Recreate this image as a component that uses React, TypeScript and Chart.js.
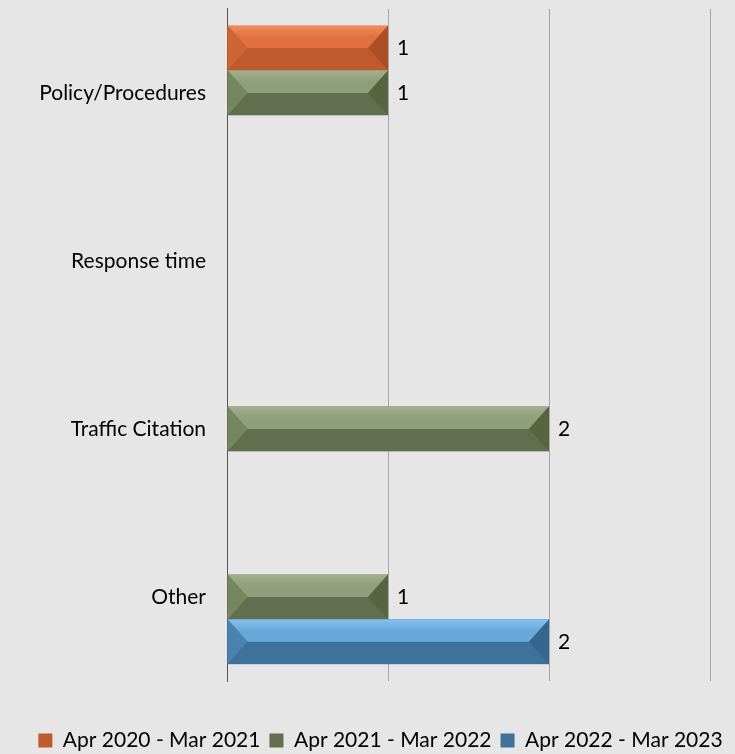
import React, { useEffect, useRef } from "react";
import { Chart, registerables } from "chart.js";

Chart.register(...registerables);

const categories = ["Policy/Procedures", "Response time", "Traffic Citation", "Other"];
const seriesNames = ["Apr 2020 - Mar 2021", "Apr 2021 - Mar 2022", "Apr 2022 - Mar 2023"];
const series2020 = [1, 0, 0, 0];
const series2021 = [1, 0, 2, 1];
const series2022 = [0, 0, 0, 2];
const xTicks = [0, 1, 2, 3];

// [highlight, top, bottom, left, right]
const palettes = [
  ["#f38b5c", "#e3713f", "#bf5a2c", "#cf6434", "#ad4f25"],
  ["#a2b08f", "#909f7b", "#616f4e", "#76865f", "#56643f"],
  ["#82c2ef", "#69a9d9", "#3e719b", "#4a82b0", "#356690"],
];

const FONT = "Lato, 'Noto Sans', sans-serif";
const FS = 21;

const bevelPlugin = {
  id: "bevel",
  afterLayout(chart: any) {
    const l = chart.legend;
    if (l) {
      l.top += 7;
      l.bottom += 7;
    }
  },
  afterDatasetsDraw(chart: any) {
    const ctx = chart.ctx;
    chart.data.datasets.forEach((ds: any, di: number) => {
      const meta = chart.getDatasetMeta(di);
      const p = palettes[di];
      meta.data.forEach((bar: any, i: number) => {
        const v = ds.data[i];
        if (!v) return;
        const { x, y, base, height } = bar.getProps(["x", "y", "base", "height"], true);
        const x0 = Math.min(base, x);
        const x1 = Math.max(base, x);
        const top = y - height / 2;
        const bot = y + height / 2;
        const mid = y;
        const bw = Math.min(20, (x1 - x0) / 2);
        ctx.save();
        ctx.fillStyle = p[2];
        ctx.fillRect(x0, top, x1 - x0, height);
        const g = ctx.createLinearGradient(0, top, 0, mid);
        g.addColorStop(0, p[0]);
        g.addColorStop(0.5, p[1]);
        g.addColorStop(1, p[1]);
        ctx.fillStyle = g;
        ctx.beginPath();
        ctx.moveTo(x0, top);
        ctx.lineTo(x1, top);
        ctx.lineTo(x1 - bw, mid);
        ctx.lineTo(x0 + bw, mid);
        ctx.closePath();
        ctx.fill();
        ctx.fillStyle = p[3];
        ctx.beginPath();
        ctx.moveTo(x0, top);
        ctx.lineTo(x0 + bw, mid);
        ctx.lineTo(x0, bot);
        ctx.closePath();
        ctx.fill();
        ctx.fillStyle = p[4];
        ctx.beginPath();
        ctx.moveTo(x1, top);
        ctx.lineTo(x1 - bw, mid);
        ctx.lineTo(x1, bot);
        ctx.closePath();
        ctx.fill();
        ctx.fillStyle = "#000";
        ctx.font = `${FS}px ${FONT}`;
        ctx.textAlign = "left";
        ctx.textBaseline = "middle";
        ctx.fillText(String(v), x1 + 9, mid);
        ctx.restore();
      });
    });
  },
};

export default function App() {
  const ref = useRef<HTMLCanvasElement>(null);
  useEffect(() => {
    document.body.style.margin = "0";
    const data = [series2020, series2021, series2022];
    const chart = new Chart(ref.current!, {
      type: "bar",
      data: {
        labels: categories,
        datasets: seriesNames.map((name, i) => ({
          label: name,
          data: data[i],
          backgroundColor: "rgba(0,0,0,0)",
          borderWidth: 0,
          categoryPercentage: 0.8,
          barPercentage: 1,
        })),
      },
      options: {
        indexAxis: "y",
        animation: false,
        responsive: false,
        maintainAspectRatio: false,
        layout: { padding: { top: 0, right: 0, left: 26, bottom: 0 } },
        scales: {
          x: {
            min: 0,
            max: 3,
            afterBuildTicks: (s: any) => {
              s.ticks = xTicks.map((v) => ({ value: v }));
            },
            ticks: { display: false },
            grid: { color: "#a6a6a6", lineWidth: 1, drawTicks: false },
            border: { display: false },
            afterFit: (s: any) => {
              s.height = 33;
            },
          },
          y: {
            ticks: {
              color: "#000",
              font: { size: FS, family: FONT, lineHeight: 0.75 },
              padding: 1,
            },
            grid: {
              display: true,
              drawOnChartArea: false,
              drawTicks: true,
              tickLength: 20,
              color: "rgba(0,0,0,0)",
            },
            border: { display: true, color: "#555", width: 1 },
            afterFit: (s: any) => {
              s.width = 201;
            },
          },
          yRight: {
            type: "category",
            position: "right",
            labels: categories,
            ticks: { display: false },
            grid: { display: false, drawTicks: false },
            border: { display: false },
            afterFit: (s: any) => {
              s.width = 25;
            },
          },
        },
        plugins: {
          legend: {
            position: "bottom",
            labels: {
              color: "#000",
              font: { size: FS, family: FONT },
              boxWidth: 14,
              boxHeight: 14,
              padding: 9,
              generateLabels: () =>
                seriesNames.map((n, i) => ({
                  text: n,
                  fillStyle: palettes[i][2],
                  strokeStyle: palettes[i][2],
                  lineWidth: 0,
                  datasetIndex: i,
                  hidden: false,
                  fontColor: "#000",
                })),
            },
          },
          tooltip: { enabled: false },
        },
      },
      plugins: [bevelPlugin],
    } as any);
    return () => chart.destroy();
  }, []);
  return (
    <div style={{ width: 735, height: 754, background: "#e6e6e6" }}>
      <canvas ref={ref} width={735} height={754} style={{ display: "block" }} />
    </div>
  );
}
